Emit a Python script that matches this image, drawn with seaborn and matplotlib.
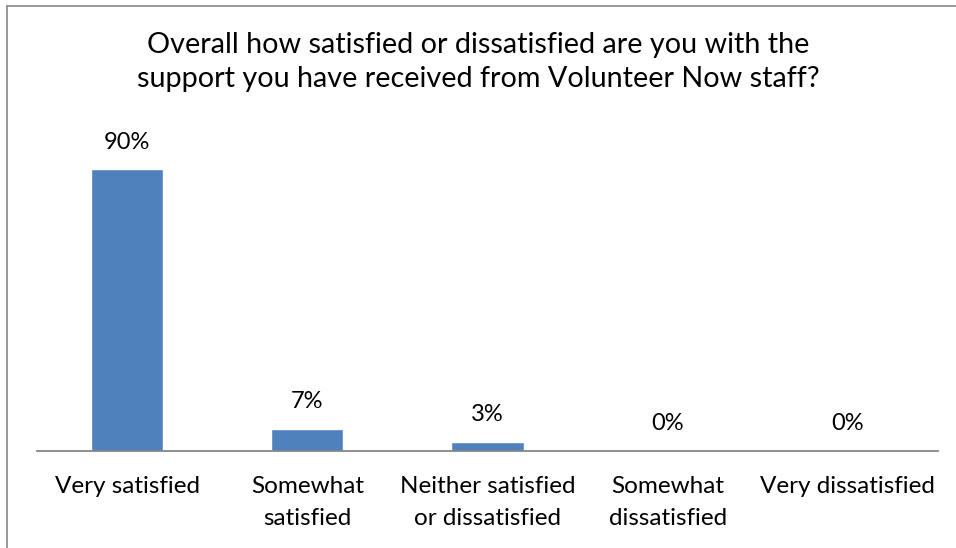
import matplotlib
matplotlib.use('Agg')
import matplotlib.pyplot as plt
from matplotlib.lines import Line2D
import seaborn as sns
import pandas as pd

categories = ["Very satisfied", "Somewhat\nsatisfied", "Neither satisfied\nor dissatisfied",
              "Somewhat\ndissatisfied", "Very dissatisfied"]
values = [0.90, 0.07, 0.03, 0.00, 0.00]
value_labels = ["90%", "7%", "3%", "0%", "0%"]
title = ("Overall how satisfied or dissatisfied are you with the\n"
         "support you have received from Volunteer Now staff?")

sns.set_theme(style='white')
plt.rcParams['font.family'] = ['Lato', 'DejaVu Sans']

W, H = 956, 548
fig = plt.figure(figsize=(W / 100, H / 100), dpi=100)
fig.patch.set_facecolor('white')

ax = fig.add_axes([37 / W, (H - 451) / H, 901 / W, 313 / H])
df = pd.DataFrame({'category': categories, 'value': values})
sns.barplot(data=df, x='category', y='value', color='#4F81BD', width=0.4,
            saturation=1, ax=ax, errorbar=None)
ax.set_ylim(0, 1.0)
ax.set_xlim(-0.5, len(categories) - 0.5)
ax.set_xlabel('')
ax.set_ylabel('')
ax.set_yticks([])
for s in ['top', 'right', 'left']:
    ax.spines[s].set_visible(False)
ax.spines['bottom'].set_color('#868686')
ax.spines['bottom'].set_linewidth(1.3)
ax.tick_params(axis='x', length=0, pad=18, labelsize=17.5, labelcolor='black')
for t in ax.get_xticklabels():
    t.set_linespacing(1.65)

ax.bar_label(ax.containers[0], labels=value_labels, padding=12, fontsize=17, color='black')

fig.text(0.5, 1 - 62 / H, title, ha='center', va='center', fontsize=20.7,
         color='black', linespacing=1.4)

# outer chart border (cropped at right and bottom)
fig.add_artist(Line2D([7 / W, 1.0], [1 - 6 / H, 1 - 6 / H], transform=fig.transFigure,
                      color='#888888', lw=1.2))
fig.add_artist(Line2D([7 / W, 7 / W], [0, 1 - 6 / H], transform=fig.transFigure,
                      color='#888888', lw=1.2))

fig.savefig('out.png', dpi=100)
